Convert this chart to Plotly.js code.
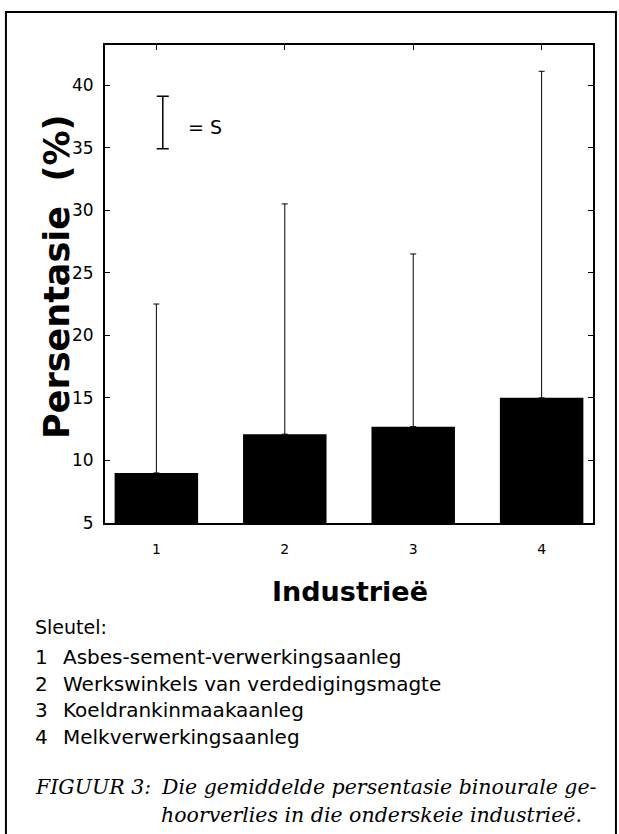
<!DOCTYPE html>
<html>
<head>
<meta charset="utf-8">
<script src="https://cdn.plot.ly/plotly-3.0.1.min.js"></script>
<style>html,body{margin:0;padding:0;background:#fff;}#chart{width:619px;height:834px;}</style>
</head>
<body>
<div id="chart"></div>
<script>
// Data
const categories = [1, 2, 3, 4];
const means = [9.0, 12.1, 12.7, 15.0];
const sdUpper = [13.5, 18.4, 13.8, 26.1];
const tickLabels = ["1", "2", "3", "4"];
const yTicks = [5, 10, 15, 20, 25, 30, 35, 40];
const keyItems = ["Asbes-sement-verwerkingsaanleg", "Werkswinkels van verdedigingsmagte", "Koeldrankinmaakaanleg", "Melkverwerkingsaanleg"];
const keyIconX = [1.05];
const keyIconY = [37.0];
const keyIconS = [2.1];
const yBase = 5;

const sans = "DejaVu Sans, Liberation Sans, Arial, sans-serif";
const serif = "DejaVu Serif, Liberation Serif, serif";

const traces = [
  {
    type: 'bar', x: categories, y: means.map(v => v - yBase), base: yBase,
    width: 0.65,
    marker: {color: '#000', line: {width: 0}},
    error_y: {type: 'data', symmetric: false, array: sdUpper, arrayminus: [0, 0, 0, 0], color: '#000', thickness: 1, width: 3},
    hoverinfo: 'none'
  },
  {
    type: 'scatter', mode: 'markers', x: keyIconX, y: keyIconY,
    marker: {size: 0.1, color: 'rgba(0,0,0,0)'},
    error_y: {type: 'data', array: keyIconS, color: '#000', thickness: 1.5, width: 6},
    hoverinfo: 'none'
  }
];

const A = (o) => Object.assign({showarrow: false, yanchor: 'middle'}, o);
const annotations = [
  A({xref: 'x', yref: 'y', x: 1.38, y: 36.65, text: '= S', font: {family: sans, size: 19, color: '#000'}}),
  A({xref: 'paper', yref: 'paper', x: -0.098, xanchor: 'center', y: 0.515, text: '<b>Persentasie  (%)</b>', textangle: -90, font: {family: sans, size: 35, color: '#000'}}),
  A({xref: 'paper', yref: 'paper', x: 0.502, xanchor: 'center', y: -0.144, text: '<b>Industrieë</b>', font: {family: sans, size: 27, color: '#000'}}),
  A({xref: 'paper', yref: 'paper', x: -0.148, xanchor: 'left', y: -0.2176, text: 'Sleutel:', font: {family: sans, size: 19, color: '#000'}})
];
const keyY = [-0.2803, -0.3368, -0.3912, -0.4477];
keyItems.forEach((t, i) => {
  annotations.push(A({xref: 'paper', yref: 'paper', x: -0.148, xanchor: 'left', y: keyY[i], text: tickLabels[i], font: {family: sans, size: 20, color: '#000'}}));
  annotations.push(A({xref: 'paper', yref: 'paper', x: -0.09, xanchor: 'left', y: keyY[i], text: t, font: {family: sans, size: 20, color: '#000'}}));
});
annotations.push(A({xref: 'paper', yref: 'paper', x: -0.148, xanchor: 'left', y: -0.5523, text: '<i>FIGUUR 3:</i>', font: {family: serif, size: 20.5, color: '#000'}}));
annotations.push(A({xref: 'paper', yref: 'paper', x: 0.11, xanchor: 'left', y: -0.5523, text: '<i>Die gemiddelde persentasie binourale ge-</i>', font: {family: serif, size: 20.5, color: '#000'}}));
annotations.push(A({xref: 'paper', yref: 'paper', x: 0.11, xanchor: 'left', y: -0.611, text: '<i>hoorverlies in die onderskeie industrieë.</i>', font: {family: serif, size: 20.5, color: '#000'}}));

const layout = {
  width: 619, height: 834,
  margin: {l: 105, r: 26, t: 45, b: 311},
  paper_bgcolor: '#fff', plot_bgcolor: '#fff',
  showlegend: false,
  xaxis: {
    range: [0.6, 4.4], tickmode: 'array', tickvals: categories, ticktext: tickLabels,
    ticks: 'inside', ticklen: 5, tickwidth: 1, tickcolor: '#000',
    showline: true, linecolor: '#000', linewidth: 2, mirror: 'ticks',
    showgrid: false, zeroline: false, ticklabelstandoff: 12,
    tickfont: {family: sans, size: 14, color: '#000'}
  },
  yaxis: {
    range: [5, 43.2], tickmode: 'array', tickvals: yTicks,
    ticks: 'inside', ticklen: 5, tickwidth: 1, tickcolor: '#000',
    showline: true, linecolor: '#000', linewidth: 2, mirror: 'ticks',
    showgrid: false, zeroline: false, ticklabelstandoff: 6,
    tickfont: {family: sans, size: 17, color: '#000'}
  },
  annotations: annotations,
  shapes: [
    {type: 'rect', xref: 'paper', yref: 'paper', x0: -0.203, x1: 1.047, y0: -0.7, y1: 1.069, line: {color: '#000', width: 2}, fillcolor: 'rgba(0,0,0,0)', layer: 'below'}
  ]
};

Plotly.newPlot('chart', traces, layout, {staticPlot: true});
</script>
</body>
</html>
